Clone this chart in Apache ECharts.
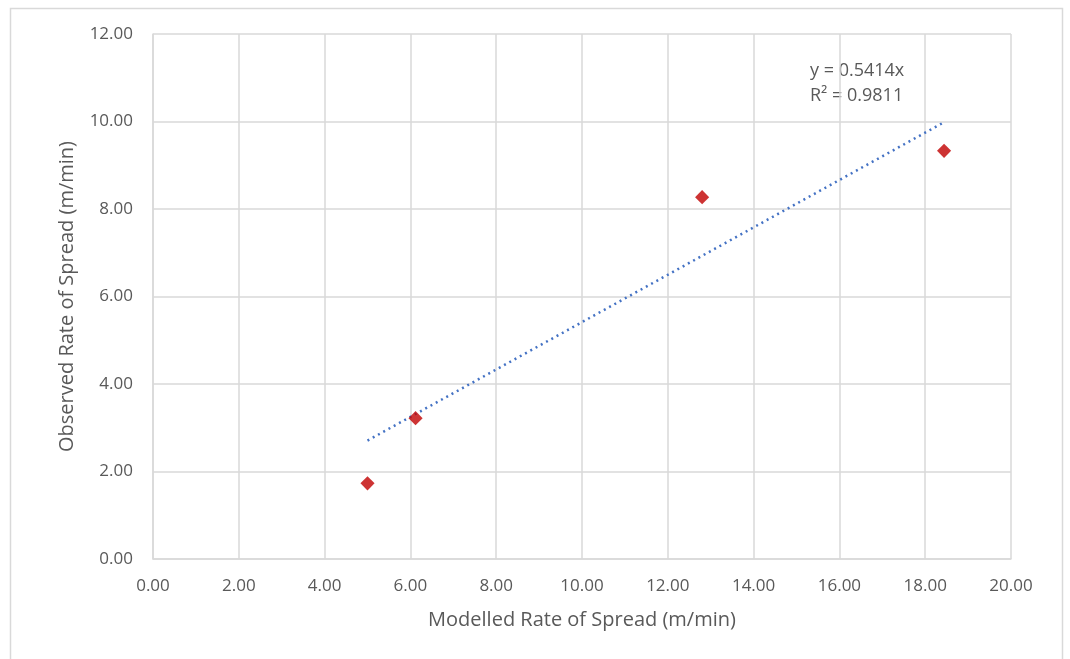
<!DOCTYPE html>
<html>
<head>
<meta charset="utf-8">
<script src="https://cdn.jsdelivr.net/npm/echarts@6/dist/echarts.min.js"></script>
<style>
html,body{margin:0;padding:0;background:#fff;}
#chart{width:1070px;height:659px;}
</style>
</head>
<body>
<div id="chart"></div>
<script>
// 读图得到的数据
var modelled = [5.00, 6.12, 12.80, 18.44];
var observed = [1.73, 3.22, 8.27, 9.33];
var slope = 0.5414;
var r2 = 0.9811;

var points = [];
for (var i = 0; i < modelled.length; i++) {
	points.push([modelled[i], observed[i]]);
}
// 趋势线：过原点，从最小x画到最大x
var xMin = Math.min.apply(null, modelled);
var xMax = Math.max.apply(null, modelled);
var trend = [[xMin, slope * xMin], [xMax, slope * xMax]];

var txtColor = '#595959';
var lineGray = '#d9d9d9';
var fontName = 'Open Sans';

var chart = echarts.init(document.getElementById('chart'));
var option = {
	animation: false,
	grid: { left: 153, right: 59, top: 34, bottom: 100 },
	graphic: [
		{
			type: 'rect', silent: true, z: -1,
			shape: { x: 10.5, y: 8.5, width: 1052, height: 700 },
			style: { fill: null, stroke: lineGray, lineWidth: 1.5 }
		},
		{
			type: 'text', left: 810, top: 62,
			style: { text: 'y = 0.5414x', fill: txtColor, font: '18px "' + fontName + '"' }
		},
		{
			type: 'text', left: 810, top: 87,
			style: { text: 'R² = ' + r2.toFixed(4), fill: txtColor, font: '18px "' + fontName + '"' }
		}
	],
	xAxis: {
		type: 'value', min: 0, max: 20, interval: 2,
		name: 'Modelled Rate of Spread (m/min)',
		nameLocation: 'middle', nameGap: 51,
		nameTextStyle: { color: txtColor, fontSize: 20, fontFamily: fontName },
		axisLine: { show: true, lineStyle: { color: lineGray, width: 1.5 } },
		axisTick: { show: false },
		axisLabel: { color: txtColor, fontSize: 17, fontFamily: fontName, margin: 19,
			formatter: function (v) { return v.toFixed(2); } },
		splitLine: { show: true, lineStyle: { color: lineGray, width: 1.5 } }
	},
	yAxis: {
		type: 'value', min: 0, max: 12, interval: 2,
		name: 'Observed Rate of Spread (m/min)',
		nameLocation: 'middle', nameGap: 76,
		nameTextStyle: { color: txtColor, fontSize: 20, fontFamily: fontName },
		axisLine: { show: true, lineStyle: { color: lineGray, width: 1.5 } },
		axisTick: { show: false },
		axisLabel: { color: txtColor, fontSize: 17, fontFamily: fontName, margin: 20,
			formatter: function (v) { return v.toFixed(2); } },
		splitLine: { show: true, lineStyle: { color: lineGray, width: 1.5 } }
	},
	series: [
		{
			type: 'line',
			data: trend,
			showSymbol: false,
			symbol: 'none',
			lineStyle: { color: '#4472c4', width: 2.5, type: [2, 4] },
			z: 2
		},
		{
			type: 'scatter',
			data: points,
			symbol: 'rect',
			symbolSize: 10,
			symbolRotate: 45,
			itemStyle: { color: '#c00000' },
			z: 3
		}
	]
};
chart.setOption(option);
</script>
</body>
</html>
